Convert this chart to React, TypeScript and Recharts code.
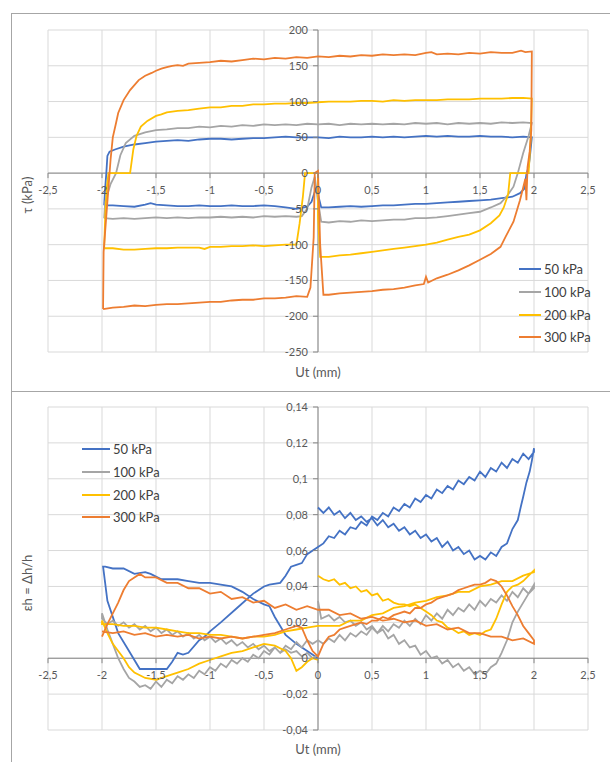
import {
  CartesianGrid,
  Line,
  LineChart,
  ReferenceDot,
  ReferenceLine,
  XAxis,
  YAxis,
} from "recharts";

type Pt = [number, number];

const SERIES_NAMES = ["50 kPa", "100 kPa", "200 kPa", "300 kPa"];
const X_TICKS = [-2.5, -2, -1.5, -1, -0.5, 0, 0.5, 1, 1.5, 2, 2.5];
const TAU_TICKS = [-250, -200, -150, -100, -50, 0, 50, 100, 150, 200];
const EPS_TICKS = [-0.04, -0.02, 0, 0.02, 0.04, 0.06, 0.08, 0.1, 0.12, 0.14];

// shear stress loops, tau (kPa) vs Ut (mm)
const TAU_50: Pt[] = [
  [-1.98, -45], [-1.97, -20], [-1.96, 0], [-1.95, 24], [-1.93, 30], [-1.88, 33], [-1.8, 37], [-1.7, 40],
  [-1.6, 42], [-1.5, 44], [-1.4, 45], [-1.3, 46], [-1.2, 45], [-1.1, 47], [-1, 48], [-0.9, 48], [-0.8, 47],
  [-0.7, 48], [-0.6, 49], [-0.5, 49], [-0.4, 50], [-0.3, 51], [-0.2, 50], [-0.1, 50], [0, 50], [0.1, 49],
  [0.2, 51], [0.3, 50], [0.4, 50], [0.5, 51], [0.6, 50], [0.7, 51], [0.8, 50], [0.9, 51], [1, 52], [1.1, 51],
  [1.2, 52], [1.3, 51], [1.4, 51], [1.5, 52], [1.6, 51], [1.7, 51], [1.8, 50], [1.9, 51], [1.98, 50],
  [1.97, 35], [1.96, 20], [1.95, 9], [1.93, -1], [1.91, -22], [1.87, -28], [1.8, -33], [1.7, -35], [1.6, -37],
  [1.5, -38], [1.4, -39], [1.3, -40], [1.2, -41], [1.1, -42], [1, -43], [0.9, -43], [0.8, -44], [0.7, -45],
  [0.6, -45], [0.5, -46], [0.4, -47], [0.3, -46], [0.2, -47], [0.1, -48], [0.03, -48], [0, -30], [-0.01, -18],
  [-0.03, -26], [-0.06, -40], [-0.1, -47], [-0.2, -50], [-0.3, -48], [-0.4, -46], [-0.5, -45], [-0.6, -46],
  [-0.7, -46], [-0.8, -45], [-0.9, -46], [-1, -46], [-1.1, -45], [-1.2, -46], [-1.3, -46], [-1.4, -45],
  [-1.5, -44], [-1.55, -42], [-1.6, -44], [-1.7, -47], [-1.8, -46], [-1.9, -45], [-1.98, -45],
];

const TAU_100: Pt[] = [
  [-1.98, -63], [-1.97, -40], [-1.92, -15], [-1.87, 0], [-1.83, 25], [-1.78, 42], [-1.7, 52], [-1.6, 57],
  [-1.5, 60], [-1.4, 61], [-1.3, 63], [-1.2, 63], [-1.1, 65], [-1, 64], [-0.9, 66], [-0.8, 65], [-0.7, 67],
  [-0.6, 66], [-0.5, 68], [-0.4, 67], [-0.3, 68], [-0.2, 67], [-0.1, 69], [0, 68], [0.1, 69], [0.2, 67],
  [0.3, 69], [0.4, 68], [0.5, 69], [0.6, 68], [0.7, 69], [0.8, 68], [0.9, 70], [1, 69], [1.1, 70], [1.2, 68],
  [1.3, 70], [1.4, 69], [1.5, 70], [1.6, 69], [1.7, 71], [1.8, 70], [1.9, 71], [1.98, 70],
  [1.95, 52], [1.9, 28], [1.85, 0], [1.81, -19], [1.75, -32], [1.69, -42], [1.6, -48], [1.5, -54], [1.4, -56],
  [1.3, -58], [1.2, -60], [1.1, -62], [1, -63], [0.9, -63], [0.8, -65], [0.7, -65], [0.6, -66], [0.5, -67],
  [0.4, -66], [0.3, -68], [0.2, -67], [0.1, -69], [0.03, -68], [0, -40], [-0.03, -5], [-0.06, -20],
  [-0.1, -50], [-0.15, -60], [-0.2, -61], [-0.3, -60], [-0.4, -61], [-0.5, -60], [-0.6, -62], [-0.7, -61],
  [-0.8, -62], [-0.9, -61], [-1, -62], [-1.1, -62], [-1.2, -63], [-1.3, -62], [-1.4, -63], [-1.5, -62],
  [-1.6, -63], [-1.7, -64], [-1.8, -63], [-1.9, -64], [-1.98, -63],
];

const TAU_200: Pt[] = [
  [-1.98, -105], [-1.97, -60], [-1.955, -20], [-1.94, 0], [-1.85, 0], [-1.74, 0], [-1.71, 33], [-1.68, 52],
  [-1.64, 65], [-1.58, 73], [-1.5, 80], [-1.45, 82], [-1.4, 85], [-1.3, 87], [-1.2, 88], [-1.1, 90], [-1, 92],
  [-0.9, 92], [-0.8, 94], [-0.7, 94], [-0.6, 96], [-0.5, 96], [-0.4, 97], [-0.3, 97], [-0.2, 98], [-0.1, 98],
  [0, 99], [0.1, 100], [0.2, 100], [0.3, 100], [0.4, 101], [0.5, 101], [0.6, 100], [0.7, 102], [0.8, 101],
  [0.9, 102], [1, 102], [1.1, 102], [1.2, 103], [1.3, 103], [1.4, 103], [1.5, 104], [1.6, 104], [1.7, 104],
  [1.8, 105], [1.9, 105], [1.98, 104],
  [1.97, 50], [1.95, 0], [1.85, 0], [1.78, 0], [1.76, -30], [1.72, -48], [1.68, -59], [1.6, -70], [1.5, -80],
  [1.4, -86], [1.3, -89], [1.2, -93], [1.1, -97], [1, -100], [0.9, -102], [0.8, -104], [0.7, -106],
  [0.6, -108], [0.5, -110], [0.4, -112], [0.3, -114], [0.2, -115], [0.1, -117], [0.02, -117], [0, -60],
  [0, 0], [-0.05, 0], [-0.12, 0], [-0.14, -33], [-0.17, -70], [-0.2, -100], [-0.3, -100], [-0.4, -101],
  [-0.5, -102], [-0.6, -101], [-0.7, -102], [-0.8, -102], [-0.9, -103], [-1, -103], [-1.05, -106],
  [-1.1, -104], [-1.2, -104], [-1.3, -104], [-1.4, -105], [-1.5, -105], [-1.6, -106], [-1.7, -107],
  [-1.8, -107], [-1.9, -105], [-1.98, -105],
];

const TAU_300: Pt[] = [
  [-1.99, -190], [-1.985, -110], [-1.96, -60], [-1.94, -20], [-1.92, 20], [-1.9, 50], [-1.87, 70],
  [-1.85, 84], [-1.8, 102], [-1.74, 116], [-1.66, 130], [-1.6, 136], [-1.54, 140], [-1.5, 143],
  [-1.45, 146], [-1.4, 148], [-1.35, 150], [-1.3, 151], [-1.25, 150], [-1.2, 153], [-1.1, 154], [-1, 155],
  [-0.9, 157], [-0.8, 156], [-0.7, 158], [-0.6, 160], [-0.5, 159], [-0.4, 161], [-0.3, 160], [-0.2, 162],
  [-0.1, 161], [0, 163], [0.1, 162], [0.2, 164], [0.3, 163], [0.4, 165], [0.5, 164], [0.6, 166], [0.7, 165],
  [0.8, 166], [0.9, 165], [1, 168], [1.05, 169], [1.1, 166], [1.2, 167], [1.3, 166], [1.4, 168], [1.5, 167],
  [1.6, 169], [1.7, 168], [1.8, 168], [1.88, 171], [1.92, 169], [1.98, 170],
  [1.975, 60], [1.96, 30], [1.94, 8], [1.93, -38], [1.92, -8], [1.9, -20], [1.87, -38], [1.81, -68],
  [1.74, -88], [1.69, -103], [1.6, -113], [1.5, -121], [1.4, -129], [1.3, -136], [1.2, -142], [1.1, -147],
  [1.02, -153], [1, -145], [0.98, -155], [0.9, -157], [0.8, -160], [0.7, -162], [0.6, -163], [0.5, -165],
  [0.4, -166], [0.3, -167], [0.2, -168], [0.1, -170], [0.05, -170], [0.02, -100], [0, 3], [-0.03, 0],
  [-0.04, -90], [-0.07, -160], [-0.1, -173], [-0.2, -172], [-0.3, -174], [-0.4, -175], [-0.5, -175],
  [-0.6, -177], [-0.7, -177], [-0.8, -178], [-0.9, -180], [-1, -180], [-1.1, -181], [-1.2, -182],
  [-1.3, -183], [-1.4, -183], [-1.5, -184], [-1.6, -186], [-1.7, -185], [-1.8, -187], [-1.9, -188],
  [-1.99, -190],
];

// vertical strain, eh = dh/h vs Ut (mm)
const EPS_50: Pt[] = [
  [0, 0.084], [0.05, 0.081], [0.1, 0.084], [0.15, 0.08], [0.2, 0.082], [0.25, 0.078], [0.3, 0.081],
  [0.35, 0.077], [0.4, 0.079], [0.45, 0.076], [0.5, 0.078], [0.55, 0.074], [0.6, 0.077], [0.65, 0.073],
  [0.7, 0.075], [0.75, 0.071], [0.8, 0.073], [0.85, 0.069], [0.9, 0.071], [0.95, 0.067], [1, 0.069],
  [1.05, 0.065], [1.1, 0.067], [1.15, 0.062], [1.2, 0.065], [1.25, 0.06], [1.3, 0.062], [1.35, 0.058],
  [1.4, 0.06], [1.45, 0.055], [1.5, 0.057], [1.55, 0.055], [1.6, 0.059], [1.65, 0.057], [1.7, 0.062],
  [1.75, 0.064], [1.8, 0.072], [1.85, 0.077], [1.88, 0.085], [1.9, 0.09], [1.93, 0.098], [1.96, 0.104],
  [1.98, 0.11], [2, 0.117],
  [2, 0.115], [1.95, 0.111], [1.9, 0.114], [1.85, 0.109], [1.8, 0.111], [1.75, 0.106], [1.7, 0.109],
  [1.65, 0.104], [1.6, 0.106], [1.55, 0.101], [1.5, 0.104], [1.45, 0.099], [1.4, 0.101], [1.35, 0.097],
  [1.3, 0.099], [1.25, 0.094], [1.2, 0.096], [1.15, 0.092], [1.1, 0.094], [1.05, 0.089], [1, 0.091],
  [0.95, 0.087], [0.9, 0.089], [0.85, 0.084], [0.8, 0.086], [0.75, 0.082], [0.7, 0.084], [0.65, 0.079],
  [0.6, 0.081], [0.55, 0.077], [0.5, 0.079], [0.45, 0.074], [0.4, 0.076], [0.35, 0.072], [0.3, 0.073],
  [0.25, 0.069], [0.2, 0.071], [0.15, 0.067], [0.1, 0.068], [0.05, 0.064], [0, 0.062],
  [-0.1, 0.058], [-0.15, 0.053], [-0.2, 0.052], [-0.25, 0.051], [-0.3, 0.046], [-0.35, 0.042],
  [-0.45, 0.041], [-0.5, 0.04], [-0.6, 0.036], [-0.75, 0.028], [-0.9, 0.02], [-1, 0.015], [-1.05, 0.012],
  [-1.1, 0.01], [-1.2, 0.003], [-1.25, 0.002], [-1.3, 0.003], [-1.35, -0.002], [-1.4, -0.006],
  [-1.5, -0.006], [-1.6, -0.006], [-1.65, -0.006], [-1.75, 0.004], [-1.85, 0.014], [-1.95, 0.032],
  [-1.99, 0.051],
  [-1.97, 0.051], [-1.9, 0.05], [-1.8, 0.05], [-1.7, 0.047], [-1.6, 0.048], [-1.55, 0.047], [-1.45, 0.044],
  [-1.3, 0.044], [-1.2, 0.043], [-1.1, 0.042], [-1, 0.042], [-0.9, 0.041], [-0.8, 0.04], [-0.7, 0.037],
  [-0.6, 0.033], [-0.5, 0.03], [-0.45, 0.029], [-0.4, 0.023], [-0.3, 0.013], [-0.2, 0.008], [-0.1, 0.004],
  [0, 0],
];

const EPS_100: Pt[] = [
  [0, 0.032], [0.03, 0.022], [0.1, 0.024], [0.15, 0.021], [0.2, 0.023], [0.25, 0.02], [0.3, 0.021],
  [0.35, 0.018], [0.4, 0.02], [0.45, 0.016], [0.5, 0.018], [0.55, 0.014], [0.6, 0.016], [0.65, 0.011],
  [0.7, 0.013], [0.75, 0.008], [0.8, 0.01], [0.85, 0.006], [0.9, 0.007], [0.95, 0.002], [1, 0.004],
  [1.05, 0], [1.1, 0.001], [1.15, -0.003], [1.2, -0.001], [1.25, -0.005], [1.3, -0.003], [1.35, -0.007],
  [1.4, -0.005], [1.45, -0.009], [1.5, -0.007], [1.55, -0.009], [1.6, -0.005], [1.65, -0.003],
  [1.7, 0.003], [1.75, 0.01], [1.8, 0.02], [1.85, 0.026], [1.9, 0.031], [1.95, 0.036], [2, 0.041],
  [2, 0.039], [1.95, 0.036], [1.9, 0.039], [1.85, 0.034], [1.8, 0.037], [1.75, 0.032], [1.7, 0.035],
  [1.65, 0.031], [1.6, 0.033], [1.55, 0.029], [1.5, 0.032], [1.45, 0.027], [1.4, 0.03], [1.35, 0.026],
  [1.3, 0.028], [1.25, 0.024], [1.2, 0.027], [1.15, 0.022], [1.1, 0.025], [1.05, 0.021], [1, 0.024],
  [0.95, 0.019], [0.9, 0.022], [0.85, 0.018], [0.8, 0.021], [0.75, 0.017], [0.7, 0.019], [0.65, 0.015],
  [0.6, 0.018], [0.55, 0.014], [0.5, 0.017], [0.45, 0.013], [0.4, 0.015], [0.35, 0.012], [0.3, 0.014],
  [0.25, 0.01], [0.2, 0.013], [0.15, 0.009], [0.1, 0.011], [0.05, 0.008], [0, 0.01],
  [-0.05, 0.008], [-0.1, 0.01], [-0.15, 0.006], [-0.2, 0.009], [-0.25, 0.005], [-0.3, 0.007],
  [-0.35, 0.003], [-0.4, 0.006], [-0.45, 0.002], [-0.5, 0.004], [-0.55, 0], [-0.6, 0.002], [-0.65, -0.002],
  [-0.7, 0], [-0.75, -0.003], [-0.8, -0.001], [-0.85, -0.005], [-0.9, -0.003], [-0.95, -0.007],
  [-1, -0.005], [-1.05, -0.009], [-1.1, -0.007], [-1.15, -0.011], [-1.2, -0.009], [-1.25, -0.012],
  [-1.3, -0.01], [-1.35, -0.014], [-1.4, -0.012], [-1.45, -0.016], [-1.5, -0.013], [-1.55, -0.017],
  [-1.6, -0.015], [-1.65, -0.016], [-1.7, -0.013], [-1.75, -0.011], [-1.8, -0.006], [-1.85, 0],
  [-1.9, 0.008], [-1.95, 0.016], [-2, 0.025],
  [-2, 0.022], [-1.95, 0.019], [-1.9, 0.021], [-1.85, 0.018], [-1.8, 0.02], [-1.75, 0.017], [-1.7, 0.019],
  [-1.65, 0.016], [-1.6, 0.018], [-1.55, 0.015], [-1.5, 0.017], [-1.45, 0.014], [-1.4, 0.016],
  [-1.35, 0.013], [-1.3, 0.015], [-1.25, 0.012], [-1.2, 0.014], [-1.15, 0.011], [-1.1, 0.013],
  [-1.05, 0.01], [-1, 0.012], [-0.95, 0.009], [-0.9, 0.011], [-0.85, 0.008], [-0.8, 0.01], [-0.75, 0.007],
  [-0.7, 0.009], [-0.65, 0.006], [-0.6, 0.008], [-0.55, 0.005], [-0.5, 0.007], [-0.45, 0.004],
  [-0.4, 0.006], [-0.35, 0.003], [-0.3, 0.005], [-0.25, 0.003], [-0.2, 0.004], [-0.15, 0.001],
  [-0.1, 0.003], [-0.05, 0], [0, 0.002],
];

const EPS_200: Pt[] = [
  [0, 0.046], [0.05, 0.044], [0.1, 0.043], [0.15, 0.044], [0.2, 0.041], [0.25, 0.042], [0.3, 0.039],
  [0.35, 0.04], [0.4, 0.037], [0.45, 0.038], [0.5, 0.035], [0.55, 0.036], [0.6, 0.032], [0.65, 0.033],
  [0.7, 0.031], [0.75, 0.03], [0.8, 0.03], [0.85, 0.029], [0.9, 0.03], [0.95, 0.028], [1, 0.026],
  [1.05, 0.024], [1.1, 0.021], [1.15, 0.02], [1.2, 0.017], [1.25, 0.016], [1.3, 0.014], [1.35, 0.015],
  [1.4, 0.013], [1.45, 0.014], [1.5, 0.013], [1.55, 0.015], [1.6, 0.016], [1.65, 0.022], [1.7, 0.03],
  [1.75, 0.037], [1.8, 0.04], [1.85, 0.041], [1.9, 0.043], [1.95, 0.046], [2, 0.049],
  [2, 0.048], [1.9, 0.046], [1.8, 0.043], [1.7, 0.043], [1.6, 0.041], [1.5, 0.04], [1.4, 0.037],
  [1.3, 0.037], [1.2, 0.035], [1.1, 0.034], [1, 0.032], [0.9, 0.031], [0.8, 0.029], [0.7, 0.028],
  [0.6, 0.025], [0.5, 0.024], [0.4, 0.021], [0.3, 0.021], [0.2, 0.018], [0.1, 0.018], [0, 0.018],
  [-0.1, 0.017], [-0.2, 0.016], [-0.3, 0.015], [-0.4, 0.013], [-0.5, 0.012], [-0.6, 0.012], [-0.7, 0.011],
  [-0.8, 0.012], [-0.9, 0.013], [-1, 0.013], [-1.1, 0.014], [-1.2, 0.014], [-1.3, 0.015], [-1.4, 0.016],
  [-1.5, 0.017], [-1.6, 0.017], [-1.7, 0.018], [-1.8, 0.018], [-1.9, 0.019], [-2, 0.019],
  [-2, 0.021], [-1.95, 0.014], [-1.9, 0.008], [-1.85, 0.004], [-1.8, 0], [-1.75, -0.005], [-1.7, -0.008],
  [-1.6, -0.011], [-1.5, -0.012], [-1.4, -0.01], [-1.3, -0.008], [-1.2, -0.006], [-1.1, -0.003],
  [-1, -0.001], [-0.9, 0.001], [-0.8, 0.003], [-0.7, 0.004], [-0.6, 0.006], [-0.5, 0.008], [-0.4, 0.007],
  [-0.3, 0.004], [-0.25, 0], [-0.2, -0.007], [-0.15, -0.005], [-0.1, -0.002], [-0.05, 0], [0, -0.001],
];

const EPS_300: Pt[] = [
  [-2, 0.015], [-1.9, 0.014], [-1.8, 0.015], [-1.7, 0.013], [-1.6, 0.014], [-1.5, 0.012], [-1.4, 0.013],
  [-1.3, 0.012], [-1.2, 0.013], [-1.1, 0.011], [-1, 0.012], [-0.9, 0.011], [-0.8, 0.012], [-0.7, 0.011],
  [-0.6, 0.012], [-0.5, 0.013], [-0.4, 0.014], [-0.3, 0.016], [-0.2, 0.018], [-0.15, 0.017], [-0.1, 0.01],
  [-0.05, 0.004], [0, 0.001],
  [0.05, 0.008], [0.1, 0.012], [0.15, 0.013], [0.2, 0.016], [0.25, 0.017], [0.3, 0.018], [0.35, 0.019],
  [0.4, 0.02], [0.45, 0.019], [0.5, 0.021], [0.55, 0.021], [0.6, 0.023], [0.65, 0.022], [0.7, 0.024],
  [0.75, 0.025], [0.8, 0.026], [0.85, 0.025], [0.9, 0.028], [0.95, 0.028], [1, 0.03], [1.05, 0.031],
  [1.1, 0.033], [1.15, 0.034], [1.2, 0.035], [1.25, 0.036], [1.3, 0.038], [1.35, 0.039], [1.4, 0.04],
  [1.45, 0.041], [1.5, 0.041], [1.55, 0.042], [1.6, 0.044], [1.65, 0.043], [1.7, 0.04], [1.75, 0.035],
  [1.8, 0.029], [1.85, 0.024], [1.9, 0.018], [1.95, 0.014], [2, 0.01],
  [2, 0.008], [1.9, 0.011], [1.8, 0.01], [1.7, 0.012], [1.6, 0.012], [1.5, 0.014], [1.4, 0.014],
  [1.3, 0.017], [1.2, 0.016], [1.1, 0.019], [1, 0.018], [0.9, 0.021], [0.8, 0.02], [0.7, 0.022],
  [0.6, 0.021], [0.5, 0.023], [0.4, 0.022], [0.3, 0.025], [0.2, 0.024], [0.1, 0.027], [0, 0.027],
  [-0.1, 0.029], [-0.2, 0.027], [-0.3, 0.03], [-0.4, 0.028], [-0.5, 0.032], [-0.6, 0.031], [-0.7, 0.034],
  [-0.8, 0.033], [-0.9, 0.037], [-1, 0.036], [-1.1, 0.039], [-1.2, 0.039], [-1.3, 0.042], [-1.4, 0.042],
  [-1.5, 0.045], [-1.6, 0.045], [-1.65, 0.047], [-1.7, 0.045], [-1.75, 0.043], [-1.8, 0.038],
  [-1.85, 0.031], [-1.9, 0.025], [-1.95, 0.019], [-2, 0.012],
];

const COLORS = ["#4472C4", "#A5A5A5", "#FFC000", "#ED7D31"];
const GRID = "#d9d9d9";
const AXIS = "#868686";
const TICK_COLOR = "#595959";
const FONT = "Lato, 'Open Sans', sans-serif";

const fmt = (v: number) => String(v).replace(".", ",");
const rows = (pts: Pt[]) => pts.map(([x, y]) => ({ x, y }));

function LegendBox({ left, top, lineW }: { left: number; top: number; lineW: number }) {
  return (
    <div style={{ position: "absolute", left, top, fontFamily: FONT }}>
      {SERIES_NAMES.map((n, i) => (
        <div key={n} style={{ display: "flex", alignItems: "center", height: 22.7 }}>
          <div style={{ width: lineW, height: 2, background: COLORS[i], marginRight: 3 }} />
          <span style={{ fontSize: 13, color: "#404040" }}>{n}</span>
        </div>
      ))}
    </div>
  );
}

type PanelProps = {
  series: Pt[][];
  yDomain: [number, number];
  yTicks: number[];
  height: number;
  margin: { top: number; right: number; bottom: number; left: number };
};

function Panel({ series, yDomain, yTicks, height, margin }: PanelProps) {
  return (
    <LineChart width={610} height={height} margin={margin} style={{ fontFamily: FONT }}>
      <CartesianGrid stroke={GRID} />
      <XAxis dataKey="x" type="number" domain={[-2.5, 2.5]} ticks={X_TICKS} hide allowDataOverflow />
      <YAxis type="number" domain={yDomain} ticks={yTicks} hide allowDataOverflow />
      <ReferenceLine x={0} stroke={AXIS} />
      <ReferenceLine y={0} stroke={AXIS} />
      {X_TICKS.map((v) => (
        <ReferenceDot
          key={"x" + v}
          x={v}
          y={0}
          ifOverflow="visible"
          shape={(p: any) => (
            <g>
              <line x1={p.cx} x2={p.cx} y1={p.cy} y2={p.cy + 5} stroke={AXIS} />
              <text x={p.cx} y={p.cy + 21} textAnchor="middle" fontSize={11} fill={TICK_COLOR}>
                {fmt(v)}
              </text>
            </g>
          )}
        />
      ))}
      {yTicks.map((v) => (
        <ReferenceDot
          key={"y" + v}
          x={0}
          y={v}
          ifOverflow="visible"
          shape={(p: any) => (
            <g>
              <line x1={p.cx - 5} x2={p.cx} y1={p.cy} y2={p.cy} stroke={AXIS} />
              <text x={p.cx - 10} y={p.cy + 4} textAnchor="end" fontSize={11} fill={TICK_COLOR}>
                {fmt(v)}
              </text>
            </g>
          )}
        />
      ))}
      {series.map((s, i) => (
        <Line
          key={SERIES_NAMES[i]}
          data={rows(s)}
          dataKey="y"
          name={SERIES_NAMES[i]}
          type="linear"
          stroke={COLORS[i]}
          strokeWidth={1.8}
          dot={false}
          activeDot={false}
          isAnimationActive={false}
        />
      ))}
    </LineChart>
  );
}

const titleStyle = { position: "absolute" as const, fontFamily: FONT, fontSize: 13, color: TICK_COLOR, whiteSpace: "nowrap" as const };

export default function App() {
  return (
    <div style={{ position: "fixed", left: 0, top: 0, width: 610, height: 762, overflow: "hidden", background: "#fff" }}>
      <div style={{ position: "absolute", left: 11, top: 13, width: 700, height: 378, borderTop: "1px solid #a6a6a6", borderLeft: "1px solid #a6a6a6" }} />
      <div style={{ position: "absolute", left: 11, top: 391, width: 700, height: 400, borderTop: "1px solid #a6a6a6", borderLeft: "1px solid #a6a6a6" }} />

      <div style={{ position: "absolute", left: 0, top: 0 }}>
        <Panel
          series={[TAU_50, TAU_100, TAU_200, TAU_300]}
          yDomain={[-250, 200]}
          yTicks={TAU_TICKS}
          height={391}
          margin={{ top: 30, right: 22, bottom: 39, left: 48 }}
        />
      </div>
      <LegendBox left={519} top={258} lineW={22} />
      <div style={{ ...titleStyle, left: 27, top: 195, transform: "translate(-50%, -50%) rotate(-90deg)" }}>τ (kPa)</div>
      <div style={{ ...titleStyle, left: 318, top: 372, transform: "translate(-50%, -50%)" }}>Ut (mm)</div>

      <div style={{ position: "absolute", left: 0, top: 391 }}>
        <Panel
          series={[EPS_50, EPS_100, EPS_200, EPS_300]}
          yDomain={[-0.04, 0.14]}
          yTicks={EPS_TICKS}
          height={371}
          margin={{ top: 16, right: 22, bottom: 32, left: 48 }}
        />
      </div>
      <LegendBox left={82} top={438} lineW={28} />
      <div style={{ ...titleStyle, left: 27, top: 583, transform: "translate(-50%, -50%) rotate(-90deg)" }}>εh = Δh/h</div>
      <div style={{ ...titleStyle, left: 318, top: 749, transform: "translate(-50%, -50%)" }}>Ut (mm)</div>
    </div>
  );
}
